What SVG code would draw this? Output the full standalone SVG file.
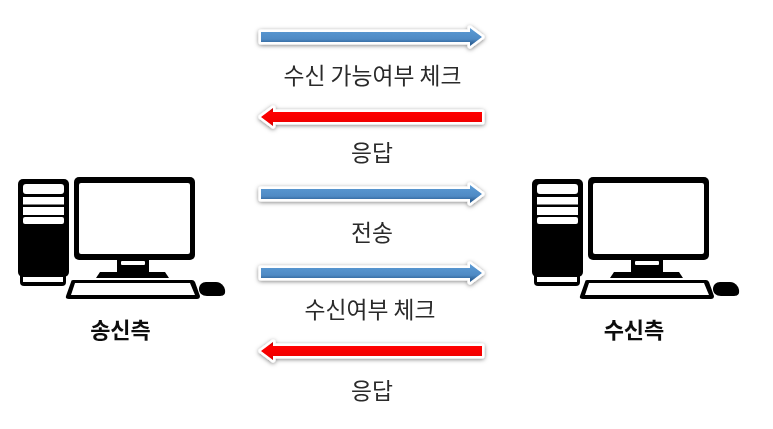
<svg xmlns="http://www.w3.org/2000/svg" width="773" height="429" viewBox="0 0 773 429">
<style>
text{font-family:"Noto Sans CJK KR","Noto Sans",sans-serif;fill:#2a2a2a;text-anchor:middle}
.l{font-size:22.800px}
.b{font-size:22px;font-weight:700;fill:#111}
.k{fill:#000}
.w{fill:#fff}
.halo{fill:#fff;stroke:#fff;stroke-width:5;stroke-linejoin:round;filter:url(#sh)}
.t{filter:url(#tb)}
</style>
<defs>
<filter id="sh" x="-5%" y="-60%" width="110%" height="220%"><feDropShadow dx="0" dy="1" stdDeviation="2" flood-color="#000" flood-opacity=".5"/></filter>
<filter id="soft" x="-5%" y="-5%" width="110%" height="110%"><feGaussianBlur stdDeviation=".5"/></filter>
<filter id="tb" x="-5%" y="-10%" width="110%" height="120%"><feGaussianBlur stdDeviation=".35"/></filter>
<linearGradient id="blue" x1="0" y1="0" x2="0" y2="1"><stop offset="0" stop-color="#5b9bd5"/><stop offset=".62" stop-color="#4f8ac4"/><stop offset=".85" stop-color="#2f6398"/><stop offset="1" stop-color="#2c5f94"/></linearGradient>
<linearGradient id="red" x1="0" y1="0" x2="0" y2="1"><stop offset="0" stop-color="#b00000"/><stop offset=".25" stop-color="#ff0000"/><stop offset=".8" stop-color="#f00000"/><stop offset="1" stop-color="#c00000"/></linearGradient>
<path id="ar" d="M0-5H209V-9L221 0 209 9V5H0Z"/>
<path id="al" d="M221-5H12V-9L0 0 12 9V5H221Z"/>
<g id="pc" filter="url(#soft)">
<rect class="k" x="18" y="179" width="51" height="98" rx="5"/>
<rect class="k" x="20" y="270" width="46" height="16" rx="4"/>
<rect class="w" x="23" y="184" width="41" height="10" rx="3"/>
<rect class="w" x="23" y="197" width="41" height="7.500"/>
<rect class="w" x="23" y="207" width="41" height="8"/>
<rect class="w" x="23" y="217" width="41" height="7" rx="2"/>
<rect class="w" x="23" y="277" width="40" height="5"/>
<rect class="k" x="74" y="177" width="121" height="83" rx="5"/>
<rect class="w" x="79" y="183" width="111" height="71" rx="2"/>
<rect class="k" x="117" y="259" width="32" height="14"/>
<path class="k" d="M100 272H165L169 278H96Z"/>
<rect class="w" x="121" y="261" width="24" height="4" rx="1"/>
<path class="k" d="M73 280H192Q194 280 195 282L200 296Q200 299 197 299H69Q65 299 66 296L71 282Q71 280 73 280Z"/>
<path class="w" d="M75 283H190L195 295H71Z"/>
<path class="k" d="M206 282H216C222 282 226 288 225 293C224 296 221 296 218 296H207C202 296 199 293 199 289C199 285 202 282 206 282Z"/>
</g>
</defs>
<g id="connectors">
<g transform="translate(261,37)"><use href="#ar" class="halo"/><use href="#ar" fill="url(#blue)"/></g>
<g transform="translate(261,117)"><use href="#al" class="halo"/><use href="#al" fill="url(#red)"/></g>
<g transform="translate(261,194)"><use href="#ar" class="halo"/><use href="#ar" fill="url(#blue)"/></g>
<g transform="translate(261,273)"><use href="#ar" class="halo"/><use href="#ar" fill="url(#blue)"/></g>
<g transform="translate(261,351)"><use href="#al" class="halo"/><use href="#al" fill="url(#red)"/></g>
</g>
<g id="labels">
<text class="l t" x="372.500" y="84">수신 가능여부 체크</text>
<text class="l t" x="372" y="161">응답</text>
<text class="l t" x="372" y="241">전송</text>
<text class="l t" x="370" y="318">수신여부 체크</text>
<text class="l t" x="372" y="399">응답</text>
</g>
<g id="sender"><use href="#pc"/><text class="b t" x="120.500" y="338">송신측</text></g>
<g id="receiver"><use href="#pc" x="514"/><text class="b t" x="634" y="338">수신측</text></g>
</svg>
